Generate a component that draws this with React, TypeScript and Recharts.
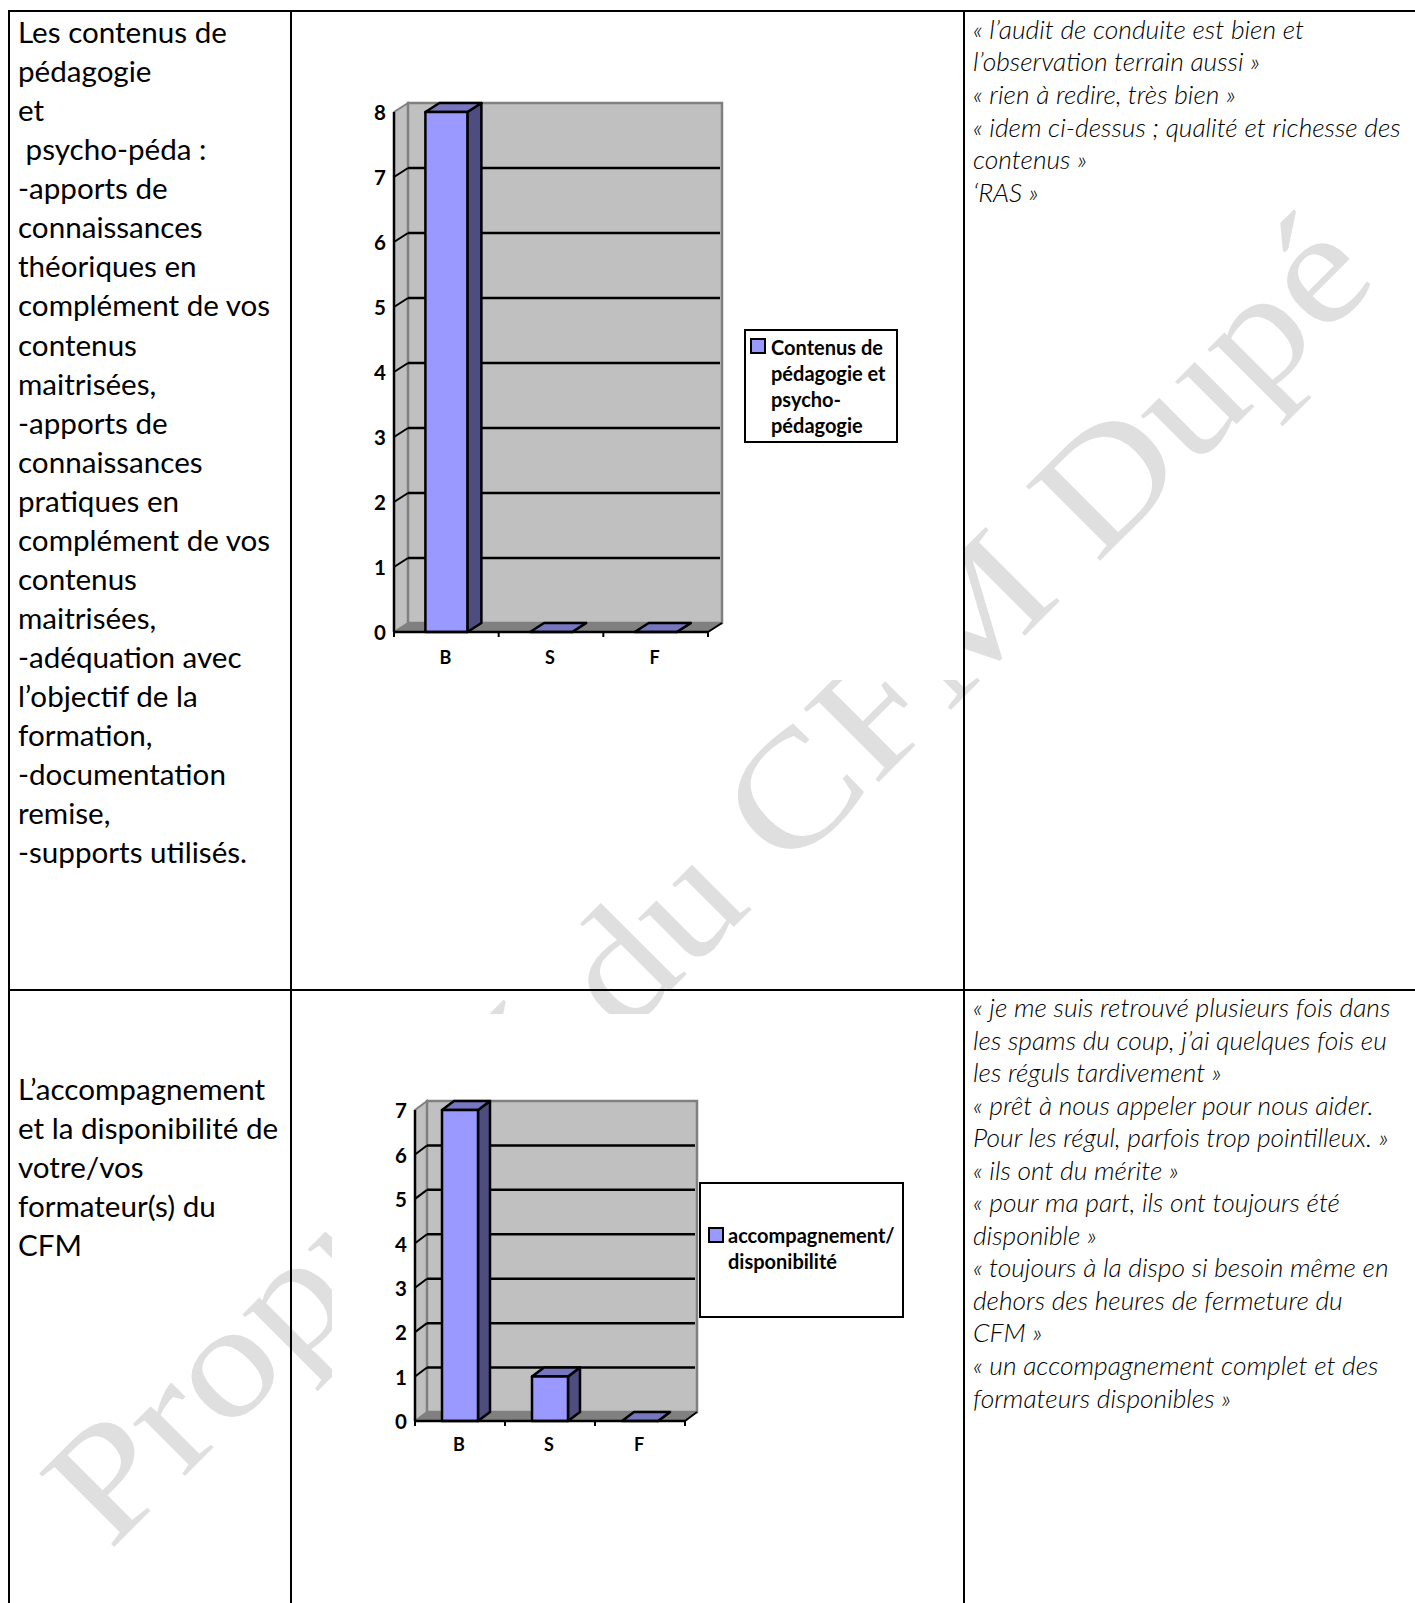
import React from 'react';
import { BarChart, Bar, XAxis, YAxis, CartesianGrid, Legend, usePlotArea } from 'recharts';

const categories = ['B', 'S', 'F'];
const contenusValues = [8, 0, 0];
const accompagnementValues = [7, 1, 0];
const contenusTicks = [0, 1, 2, 3, 4, 5, 6, 7, 8];
const accompagnementTicks = [0, 1, 2, 3, 4, 5, 6, 7];

const leftTop = [
    'Les contenus de', 'pédagogie', 'et', '\u00a0psycho-péda :', '-apports de', 'connaissances',
    'théoriques en', 'complément de vos', 'contenus', 'maitrisées,', '-apports de', 'connaissances',
    'pratiques en', 'complément de vos', 'contenus', 'maitrisées,', '-adéquation avec',
    'l’objectif de la', 'formation,', '-documentation', 'remise,', '-supports utilisés.',
];
const leftBottom = ['L’accompagnement', 'et la disponibilité de', 'votre/vos', 'formateur(s) du', 'CFM'];
const rightTop = [
    '« l’audit de conduite est bien et', 'l’observation terrain aussi »', '« rien à redire, très bien »',
    '« idem ci-dessus ; qualité et richesse des', 'contenus »', '‘RAS »',
];
const rightBottom = [
    '« je me suis retrouvé plusieurs fois dans', 'les spams du coup, j’ai quelques fois eu',
    'les réguls tardivement »', '« prêt à nous appeler pour nous aider.', 'Pour les régul, parfois trop pointilleux. »',
    '« ils ont du mérite »', '« pour ma part, ils ont toujours été', 'disponible »',
    '« toujours à la dispo si besoin même en', 'dehors des heures de fermeture du', 'CFM »',
    '« un accompagnement complet et des', 'formateurs disponibles »',
];
const contenusLegend = ['Contenus de', 'pédagogie et', 'psycho-', 'pédagogie'];
const accompagnementLegend = ['accompagnement/', 'disponibilité'];

const FONT = 'Lato, sans-serif';
const BAR_FRONT = '#9999ff';
const BAR_TOP = '#7777c0';
const BAR_SIDE = '#4d4d80';
const WALL = '#c0c0c0';
const WALL_EDGE = '#808080';

const pts = (...p: number[][]) => p.map((q) => q.join(',')).join(' ');

// the grid layer sits under the bars, so the walls are drawn with its first line
function GridItem({ x1, x2, y1, index, dx, dy }: any) {
    const plot = usePlotArea();
    if (!plot) return null;
    const { x, y, width, height } = plot;
    const b = y + height;
    const r = x + width;
    const isEdge = Math.abs(y1 - y) < 1 || Math.abs(y1 - b) < 1;
    return (
        <g>
            {index === 0 && (
                <g>
                    <polygon points={pts([x, y], [x + dx, y + dy], [x + dx, b + dy], [x, b])} fill={WALL} stroke={WALL_EDGE} strokeWidth={2} />
                    <rect x={x + dx} y={y + dy} width={width} height={height} fill={WALL} stroke={WALL_EDGE} strokeWidth={2.5} />
                    <polygon points={pts([x, b], [x + dx, b + dy], [r + dx, b + dy], [r, b])} fill={WALL_EDGE} />
                    <line x1={r} y1={b} x2={r + dx} y2={b + dy} stroke="#000" strokeWidth={2} />
                </g>
            )}
            {!isEdge && (
                <g>
                    <line x1={x1} y1={y1} x2={x1 + dx} y2={y1 + dy} stroke="#000" strokeWidth={2} />
                    <line x1={x1 + dx} y1={y1 + dy} x2={x2 + dx - 2} y2={y1 + dy} stroke="#000" strokeWidth={2.5} />
                </g>
            )}
        </g>
    );
}

function gridLine(dx: number, dy: number) {
    return (props: any) => <GridItem key={props.key ?? props.index} {...props} dx={dx} dy={dy} />;
}

function bar3d(dx: number, dy: number) {
    return (props: any) => {
        const { x, y, width, height } = props;
        const b = y + height;
        const r = x + width;
        return (
            <g stroke="#000" strokeWidth={2.5} strokeLinejoin="round">
                <polygon points={pts([r, y], [r + dx, y + dy], [r + dx, b + dy], [r, b])} fill={BAR_SIDE} />
                <polygon points={pts([x, y], [x + dx, y + dy], [r + dx, y + dy], [r, y])} fill={BAR_TOP} />
                {height > 0 && <rect x={x} y={y} width={width} height={height} fill={BAR_FRONT} />}
            </g>
        );
    };
}

function xTick(band: number, fontSize: number, labelDy: number) {
    return (props: any) => {
        const { x, y, payload, index } = props;
        return (
            <g>
                <line x1={x - band / 2} y1={y - 8} x2={x - band / 2} y2={y - 3} stroke="#000" strokeWidth={2} />
                {index === categories.length - 1 && (
                    <line x1={x + band / 2} y1={y - 8} x2={x + band / 2} y2={y - 3} stroke="#000" strokeWidth={2} />
                )}
                <text x={x - 1} y={y + labelDy} textAnchor="middle" fontFamily={FONT} fontWeight={700} fontSize={fontSize} fill="#000">
                    {payload.value}
                </text>
            </g>
        );
    };
}

function legendBox(lines: string[], box: any) {
    return (props: any) => {
        const color = props.payload?.[0]?.color ?? BAR_FRONT;
        return (
            <div style={{ position: 'relative', boxSizing: 'border-box', width: box.width, height: box.height, border: '2px solid #000', background: '#fff', fontFamily: FONT, fontWeight: 700, fontSize: 20, color: '#000' }}>
                <div style={{ position: 'absolute', left: box.swatchLeft, top: box.swatchTop, width: 12, height: 12, background: color, border: '2px solid #000' }} />
                <div style={{ position: 'absolute', left: box.textLeft, top: box.textTop, lineHeight: '26px', whiteSpace: 'nowrap' }}>
                    {lines.map((l) => <div key={l}>{l}</div>)}
                </div>
            </div>
        );
    };
}

function Chart3d({ box, values, ticks, margin, dx, dy, gap, legend, lines, labelDy }: any) {
    const data = categories.map((name, i) => ({ name, value: values[i] }));
    const plotWidth = box.width - margin.left - margin.right - 40;
    return (
        <div style={{ position: 'absolute', left: box.x, top: box.y, width: box.width, height: box.height, background: '#fff' }}>
            <BarChart width={box.width} height={box.height} data={data} margin={margin} barCategoryGap={gap}>
                <CartesianGrid vertical={false} horizontal={gridLine(dx, dy)} syncWithTicks />
                <XAxis dataKey="name" height={30} axisLine={{ stroke: '#000', strokeWidth: 2.5 }} tickLine={false} tick={xTick(plotWidth / categories.length, 18, labelDy)} interval={0} />
                <YAxis domain={[0, ticks[ticks.length - 1]]} ticks={ticks} interval={0} width={40} axisLine={{ stroke: '#000', strokeWidth: 2.5 }} tickLine={false} tickSize={7} tickMargin={1} tick={{ fontFamily: FONT, fontWeight: 700, fontSize: 20.5, fill: '#000', dy: 1 }} />
                <Legend layout="horizontal" align="center" verticalAlign="middle" wrapperStyle={{ left: legend.x, top: legend.y, width: legend.width, height: legend.height }} content={legendBox(lines, legend)} />
                <Bar dataKey="value" name={lines.join(' ')} fill={BAR_FRONT} isAnimationActive={false} shape={bar3d(dx, dy)} />
            </BarChart>
        </div>
    );
}

function TextBlock({ lines, x, y, lh, style }: any) {
    return (
        <div style={{ position: 'absolute', left: x, top: y, lineHeight: `${lh}px`, whiteSpace: 'pre', color: '#000', fontFamily: FONT, ...style }}>
            {lines.map((l: string, i: number) => <div key={i}>{l}</div>)}
        </div>
    );
}

const borderLine = (x: number, y: number, w: number, h: number) => (
    <div style={{ position: 'absolute', left: x, top: y, width: w, height: h, background: '#000' }} />
);

export default function App() {
    const leftStyle = { fontSize: 29.6 };
    const rightStyle = { fontSize: 26.4, fontStyle: 'italic', fontWeight: 300 };
    return (
        <div style={{ position: 'absolute', left: 0, top: 0, width: 1415, height: 1603, overflow: 'hidden', background: '#fff' }}>
            <div style={{ position: 'absolute', left: 15, top: 1457, transformOrigin: '0 0', transform: 'rotate(-45deg) scale(1.03, 0.89)', fontFamily: '"Liberation Serif", serif', fontSize: 180, color: '#dfdfdf', whiteSpace: 'nowrap', lineHeight: 1 }}>
                Propriété du CFM Dupé
            </div>
            <Chart3d box={{ x: 332, y: 13, width: 632, height: 667 }} values={contenusValues} ticks={contenusTicks}
                margin={{ top: 99, right: 256, bottom: 18, left: 22 }} dx={14} dy={-9} gap="30%" labelDy={24}
                legend={{ x: 412, y: 316, width: 154, height: 114, swatchLeft: 4, swatchTop: 7, textLeft: 25, textTop: 3 }} lines={contenusLegend} />
            <Chart3d box={{ x: 332, y: 1014, width: 632, height: 589 }} values={accompagnementValues} ticks={accompagnementTicks}
                margin={{ top: 96, right: 279, bottom: 152, left: 43 }} dx={12} dy={-9} gap="30%" labelDy={22}
                legend={{ x: 367, y: 168, width: 205, height: 136, swatchLeft: 7, swatchTop: 43, textLeft: 27, textTop: 38 }} lines={accompagnementLegend} />
            {borderLine(9, 10, 1406, 2)}
            {borderLine(9, 989, 1406, 2)}
            {borderLine(8, 10, 2, 1593)}
            {borderLine(290, 10, 2, 1593)}
            {borderLine(963, 10, 2, 1593)}
            <TextBlock lines={leftTop} x={18} y={12} lh={39.06} style={leftStyle} />
            <TextBlock lines={leftBottom} x={18} y={1069} lh={39.06} style={leftStyle} />
            <TextBlock lines={rightTop} x={973} y={12.5} lh={32.7} style={rightStyle} />
            <TextBlock lines={rightBottom} x={973} y={991} lh={32.55} style={rightStyle} />
        </div>
    );
}
